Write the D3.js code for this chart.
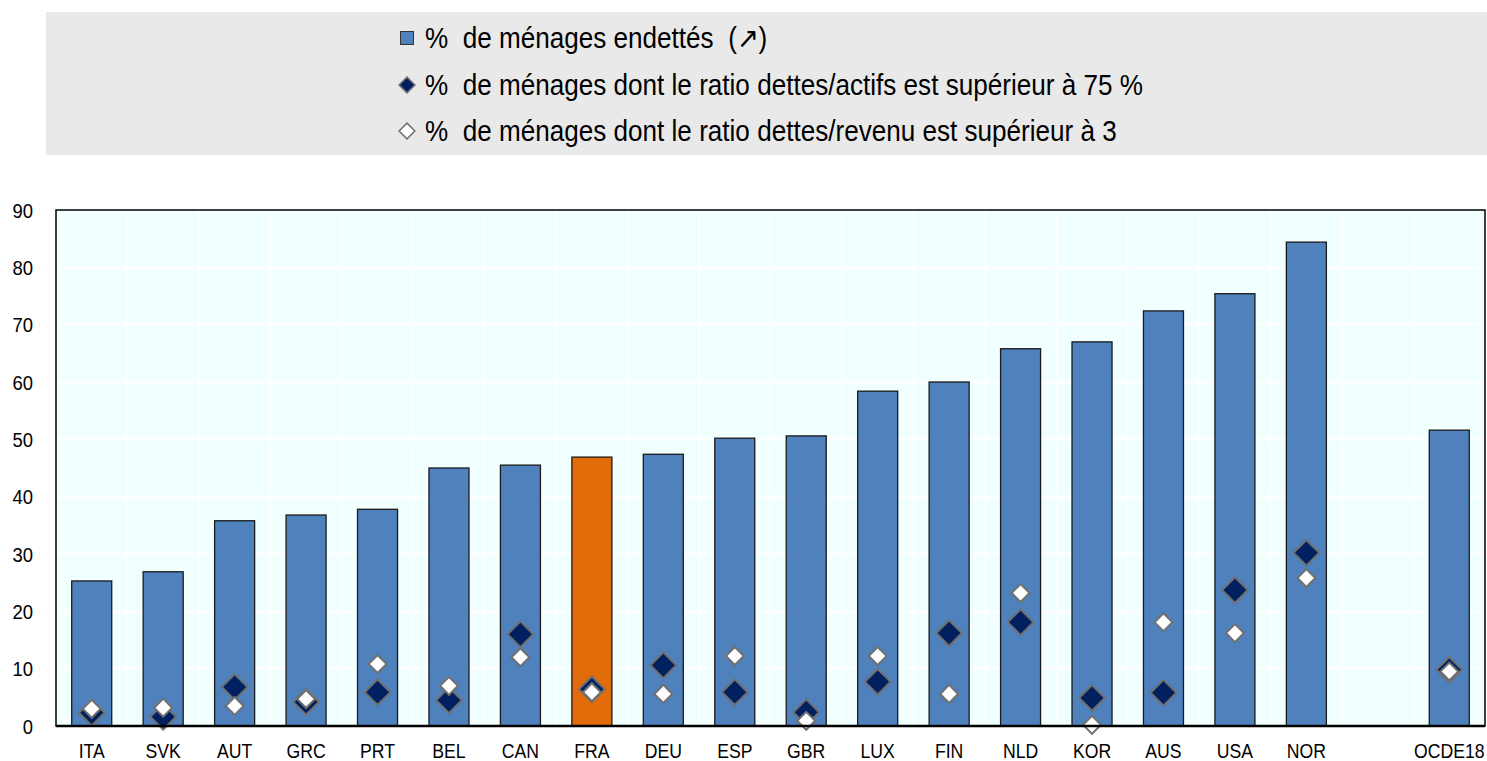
<!DOCTYPE html>
<html>
<head>
<meta charset="utf-8">
<script src="https://cdn.jsdelivr.net/npm/d3@7"></script>
<style>
  body { margin: 0; background: #fff; }
  svg text { font-family: "Liberation Sans Narrow", "Arial Narrow", "Liberation Sans", Arial, sans-serif; fill: #000; white-space: pre; }
</style>
</head>
<body>
<svg id="chart" width="1487" height="761"></svg>
<script>
// data
var countries = ['ITA','SVK','AUT','GRC','PRT','BEL','CAN','FRA','DEU','ESP','GBR','LUX','FIN','NLD','KOR','AUS','USA','NOR','','OCDE18'];
var endettes  = [25.3, 26.9, 35.8, 36.8, 37.8, 45.0, 45.5, 46.9, 47.4, 50.2, 50.6, 58.4, 60.0, 65.8, 67.0, 72.4, 75.4, 84.4, null, 51.6];
var dettesActifs = [2.3, 1.6, 6.8, 4.2, 5.9, 4.5, 16.0, 6.4, 10.6, 5.9, 2.4, 7.7, 16.2, 18.1, 4.9, 5.8, 23.7, 30.2, null, 9.8];
var dettesRevenu = [3.0, 3.2, 3.5, 4.7, 10.8, 7.0, 12.0, 5.9, 5.6, 12.2, 0.9, 12.2, 5.6, 23.2, 0.2, 18.1, 16.2, 25.8, null, 9.5];
var yTicks = [0,10,20,30,40,50,60,70,80,90];
var legendLabels = ['%  de ménages endettés  (\u2197)',
                    '%  de ménages dont le ratio dettes/actifs est supérieur à 75 %',
                    '%  de ménages dont le ratio dettes/revenu est supérieur à 3'];

var svg = d3.select('#chart');
var margin = {top: 210, left: 56, right: 2, bottom: 35};
var width = 1487, height = 761;
var plotW = width - margin.left - margin.right,
    plotH = height - margin.top - margin.bottom;

// legend panel
svg.append('rect').attr('x',46).attr('y',12).attr('width',1441).attr('height',143).attr('fill','#e9e9e9');

var leg = svg.append('g').attr('transform','translate(407,0)');
var legY = [38, 85, 131];
leg.append('rect').attr('x',-6.5).attr('y',legY[0]-6.5).attr('width',13).attr('height',13)
    .attr('fill','#4f81bd').attr('stroke','#333').attr('stroke-width',1);
leg.append('path').attr('d',d3.symbol(d3.symbolSquare,125)).attr('transform','translate(0,'+legY[1]+') rotate(45)')
    .attr('fill','#002060').attr('stroke','#707070').attr('stroke-width',1.5);
leg.append('path').attr('d',d3.symbol(d3.symbolSquare,125)).attr('transform','translate(0,'+legY[2]+') rotate(45)')
    .attr('fill','#fff').attr('stroke','#707070').attr('stroke-width',1.5);
legendLabels.forEach(function(t,i){
    leg.append('text').attr('transform','translate(18,'+legY[i]+') scale(0.9,1)').attr('dy','0.36em')
        .style('font-size','29px').text(t);
});

var g = svg.append('g').attr('transform','translate('+margin.left+','+margin.top+')');

var x = d3.scaleBand().domain(d3.range(countries.length)).range([0,plotW]).paddingInner(0.44).paddingOuter(0.22);
var y = d3.scaleLinear().domain([0,90]).range([plotH,0]);
var step = x.step();

g.append('rect').attr('width',plotW).attr('height',plotH).attr('fill','#f2ffff');

// gridlines
g.selectAll('.hgrid').data(yTicks.slice(1,-1)).enter().append('line')
    .attr('x1',0).attr('x2',plotW).attr('y1',y).attr('y2',y)
    .attr('stroke','#fff').attr('stroke-width',2);
g.selectAll('.vgrid').data(d3.range(1,countries.length)).enter().append('line')
    .attr('x1',function(i){return i*step;}).attr('x2',function(i){return i*step;})
    .attr('y1',0).attr('y2',plotH).attr('stroke','#fff').attr('stroke-width',2);

// bars
var idx = d3.range(countries.length).filter(function(i){ return endettes[i] != null; });
g.selectAll('.bar').data(idx).enter().append('rect')
    .attr('x',function(i){return x(i);}).attr('width',x.bandwidth())
    .attr('y',function(i){return y(endettes[i]);})
    .attr('height',function(i){return y(0)-y(endettes[i]);})
    .attr('fill',function(i){return countries[i]=='FRA' ? '#e36c0a' : '#4f81bd';})
    .attr('stroke','#1a1a1a').attr('stroke-width',1.3);

// diamonds
g.selectAll('.dA').data(idx).enter().append('path')
    .attr('d',d3.symbol(d3.symbolSquare,330))
    .attr('transform',function(i){return 'translate('+(x(i)+x.bandwidth()/2)+','+y(dettesActifs[i])+') rotate(45)';})
    .attr('fill','#002060').attr('stroke','#707070').attr('stroke-width',2);
g.selectAll('.dR').data(idx).enter().append('path')
    .attr('d',d3.symbol(d3.symbolSquare,160))
    .attr('transform',function(i){return 'translate('+(x(i)+x.bandwidth()/2)+','+y(dettesRevenu[i])+') rotate(45)';})
    .attr('fill','#fff').attr('stroke','#707070').attr('stroke-width',2);

// frame + baseline
g.append('rect').attr('width',plotW).attr('height',plotH).attr('fill','none').attr('stroke','#000').attr('stroke-width',1.5);
g.append('line').attr('x1',0).attr('x2',plotW).attr('y1',y(0)).attr('y2',y(0)).attr('stroke','#000').attr('stroke-width',2.5);

// y labels
g.selectAll('.ylab').data(yTicks).enter().append('text')
    .attr('transform',function(d){return 'translate(-23,'+y(d)+') scale(0.88,1)';})
    .attr('dy','0.36em').attr('text-anchor','end')
    .style('font-size','21px').text(function(d){return d;});

// x labels
g.selectAll('.xlab').data(idx).enter().append('text')
    .attr('transform',function(i){return 'translate('+(x(i)+x.bandwidth()/2)+','+(plotH+24)+') scale(0.84,1)';})
    .attr('dy','0.36em').attr('text-anchor','middle')
    .style('font-size','21px').text(function(i){return countries[i];});
</script>
</body>
</html>
